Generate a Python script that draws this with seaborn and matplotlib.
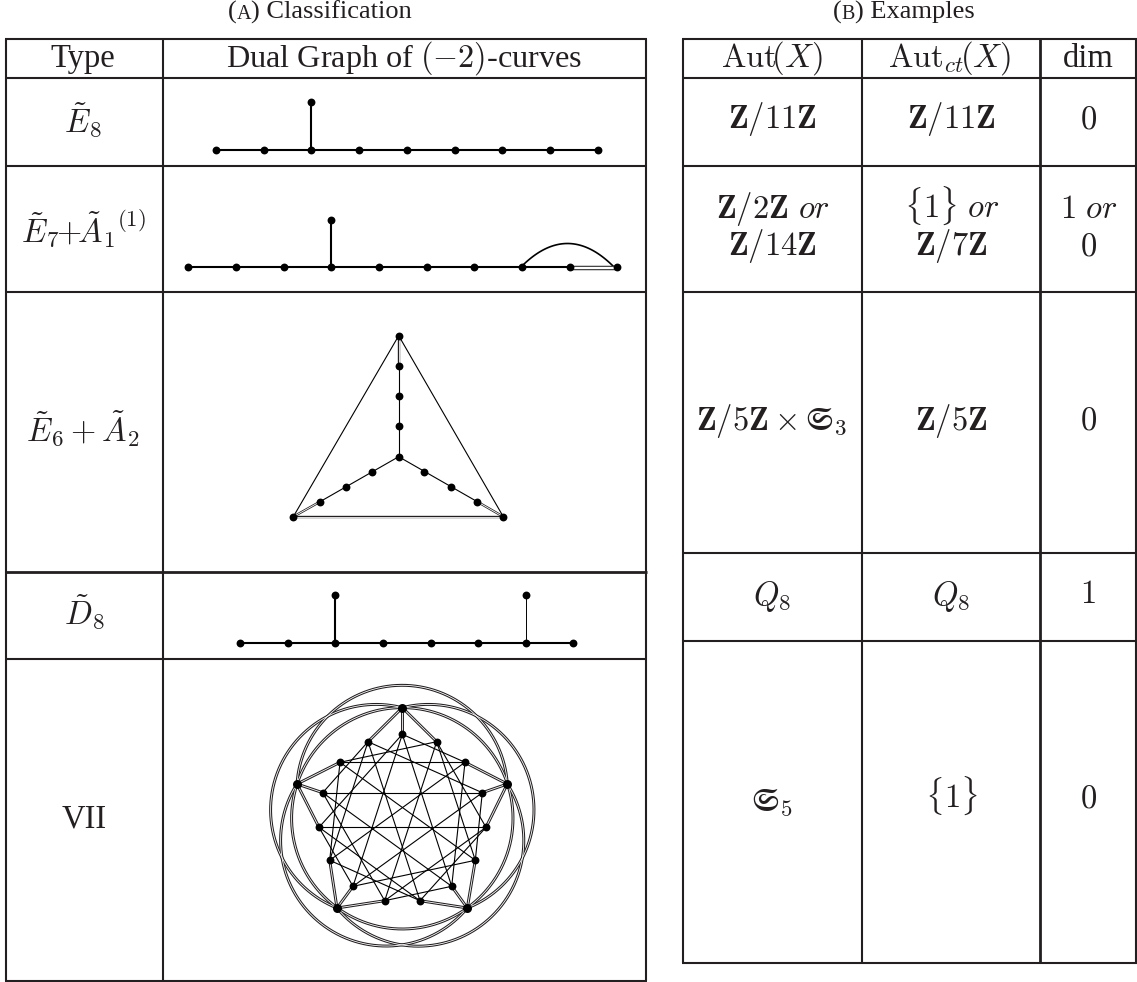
import numpy as np
import pandas as pd
import matplotlib
matplotlib.use("Agg")
import matplotlib.pyplot as plt
import seaborn as sns

INK = "#231f20"

# ─── Table grid (pixels of the page) ────────────────────────────────────────────
rows_a = [39, 78, 166, 292, 572, 659, 981]
cols_a = [6, 162.5, 646]
rows_b = [39, 78, 166, 292, 552.5, 640.5, 962.5]
cols_b = [683, 862, 1040, 1135.5]

# ─── Table texts: (x, baseline y, text) ─────────────────────────────────────────
type_labels = [
    (83, 66.5, "Type"),
    (83, 131, r"$\tilde{E}_8$"),
    (68.5, 241.5, r"$\tilde{E}_7\!\!+\!\!\tilde{A}_1$"),
    (83.5, 440, r"$\tilde{E}_6+\tilde{A}_2$"),
    (84, 623, r"$\tilde{D}_8$"),
    (84, 828, "VII"),
]
example_labels = [
    (772, 66.5, r"$\mathrm{Aut}\!(X)$"),
    (950, 66.5, r"$\mathrm{Aut}_{ct}\!(X)$"),
    (1088, 66.5, "dim"),
    (772, 128, r"$\mathbf{Z}/11\mathbf{Z}$"),
    (951, 128, r"$\mathbf{Z}/11\mathbf{Z}$"),
    (1088, 128, r"$0$"),
    (773, 218, r"$\mathbf{Z}/2\mathbf{Z}\ \mathit{or}$"),
    (772, 255, r"$\mathbf{Z}/14\mathbf{Z}$"),
    (952, 218, r"$\{1\}\ \mathit{or}$"),
    (951, 255, r"$\mathbf{Z}/7\mathbf{Z}$"),
    (1089, 218, r"$1\ \mathit{or}$"),
    (1088, 255, r"$0$"),
    (772, 430, r"$\mathbf{Z}/5\mathbf{Z}\times\mathfrak{S}_3$"),
    (951, 430, r"$\mathbf{Z}/5\mathbf{Z}$"),
    (1088, 430, r"$0$"),
    (772, 605, r"$Q_8$"),
    (951, 605, r"$Q_8$"),
    (1088, 603, r"$1$"),
    (772, 810, r"$\mathfrak{S}_5$"),
    (951, 808, r"$\{1\}$"),
    (1088, 808, r"$0$"),
]

# ─── Graph E8 ───────────────────────────────────────────────────────────────────
e8_x = [216, 264, 311, 359, 407, 454.5, 502, 549.5, 597.5, 311]
e8_y = [149.5] * 9 + [101.5]
e8_edges = [(0, 8), (2, 9)]

# ─── Graph E7 + A1 ──────────────────────────────────────────────────────────────
e7_x = [188, 236, 283.5, 331, 379, 426.5, 474, 522, 570, 617, 331]
e7_y = [266.5] * 10 + [220]
e7_edges = [(0, 8), (3, 10)]

# ─── Graph E6 + A2 ──────────────────────────────────────────────────────────────
e6_x = [398.7, 398.7, 398.7, 398.7, 398.7, 372.3, 346, 320, 293.3, 424.3, 451, 477.3, 503.3]
e6_y = [335.7, 366, 396.3, 426.3, 456.7, 471.7, 486.7, 501.7, 516.7, 471.7, 486.7, 501.7, 516.7]
e6_edges = [(1, 4), (4, 7), (4, 11), (0, 8), (0, 12)]
e6_double = [(0, 1), (7, 8), (11, 12), (8, 12)]

# ─── Graph D8 ───────────────────────────────────────────────────────────────────
d8_x = [240, 287.5, 335.4, 383, 431, 478, 526, 573, 335.4, 526]
d8_y = [642.7] * 8 + [594.7, 594.7]

# ─── Graph VII: five outer vertices, fifteen inner ones ─────────────────────────
outer_x = [402.3, 507.3, 467.3, 337, 297]
outer_y = [707.7, 784, 908, 908, 784]
inner_x = [402.3, 436.7, 465, 482.3, 486, 475.3, 451.7, 420, 384.7, 353, 329.7, 319, 322.7, 340, 368]
inner_y = [734.3, 741.7, 762.3, 792.7, 827.3, 860.3, 886.3, 900.7, 900.7, 886.3, 860.3, 827.3, 792.7, 762.3, 741.7]
spokes = [[14, 0, 1], [2, 3, 4], [5, 6, 7], [8, 9, 10], [11, 12, 13]]
inner_edges = [
    (3, 12), (6, 0), (9, 3), (12, 6), (0, 9),
    (2, 13), (5, 1), (8, 4), (11, 7), (14, 10),
    (4, 11), (7, 14), (10, 2), (13, 5), (1, 8),
    (1, 4), (4, 7), (7, 10), (10, 13), (13, 1),
    (14, 3), (2, 6), (5, 9), (8, 12), (11, 0),
    (2, 0), (5, 3), (8, 6), (11, 9), (14, 12),
]
vii_center = (402.3, 818.3)
vii_radius = 110.7
apex_radius = 133


def double_line(ax, xs, ys, wide=2.1, thin=0.6, z=3):
    ax.plot(xs, ys, color=INK, lw=wide, solid_capstyle="butt", zorder=z)
    ax.plot(xs, ys, color="white", lw=thin, solid_capstyle="butt", zorder=z + 0.1)


def arc_points(p0, p1, apex):
    # circle through the two ends and the apex
    a = np.array([[p1[0] - p0[0], p1[1] - p0[1]], [apex[0] - p0[0], apex[1] - p0[1]]]) * 2
    b = [p1[0] ** 2 - p0[0] ** 2 + p1[1] ** 2 - p0[1] ** 2,
         apex[0] ** 2 - p0[0] ** 2 + apex[1] ** 2 - p0[1] ** 2]
    c = np.linalg.solve(a, b)
    r = np.hypot(*(np.array(p0) - c))
    mid = np.arctan2(apex[1] - c[1], apex[0] - c[0])
    half = abs((np.arctan2(p0[1] - c[1], p0[0] - c[0]) - mid + np.pi) % (2 * np.pi) - np.pi)
    t = np.linspace(mid - half, mid + half, 200)
    return c[0] + r * np.cos(t), c[1] + r * np.sin(t)


def draw_nodes(ax, xs, ys, size=28):
    sns.scatterplot(data=pd.DataFrame({"x": xs, "y": ys}), x="x", y="y", ax=ax,
                    color="black", s=size, linewidth=0, zorder=5, legend=False)


def draw_table(ax, rows, cols):
    for y in rows:
        ax.plot([cols[0] - 1, cols[-1] + 1], [y, y], color=INK, zorder=2,
                lw=2.0 if y == 572 else 1.5, solid_capstyle="butt")
    for x in cols:
        ax.plot([x, x], [rows[0], rows[-1]], color=INK, zorder=2,
                lw=2.0 if x == 1040 else 1.5, solid_capstyle="butt")


def caption(ax, x, y, pieces):
    # small caps by hand: each piece is (text, size), placed one after the other
    r = ax.figure.canvas.get_renderer()
    for s, size in pieces:
        t = ax.text(x, y, s, fontsize=size, color=INK, ha="left", va="baseline")
        x += t.get_window_extent(r).width + (1 if s == ")" else 0)


def plot_tables(ax):
    draw_table(ax, rows_a, cols_a)
    draw_table(ax, rows_b, cols_b)
    for x, y, s in type_labels + example_labels:
        ax.text(x, y, s, fontsize=23.5, color=INK, ha="center", va="baseline")
    ax.text(131.5, 226, r"$(1)$", fontsize=16.5, color=INK, ha="center", va="baseline")
    ax.text(404, 66.5, r"Dual Graph of $(-2)$-curves", fontsize=23.2, color=INK,
            ha="center", va="baseline")
    caption(ax, 228, 18.5, [("(", 19), ("A", 14.5), (") Classification", 19)])
    caption(ax, 833, 18.5, [("(", 19), ("B", 14.5), (") Examples", 19)])


def plot_chains(ax):
    for xs, ys, edges in [(e8_x, e8_y, e8_edges), (e7_x, e7_y, e7_edges)]:
        for a, b in edges:
            ax.plot([xs[a], xs[b]], [ys[a], ys[b]], color="black", lw=1.5, zorder=3)
    t = np.linspace(-1, 1, 60)
    ax.plot(567.5 + 46 * t, 243.5 + 23 * t ** 2, color="black", lw=1.2, zorder=3)
    double_line(ax, [e7_x[8], e7_x[9]], [e7_y[8] + 1, e7_y[9] + 1], wide=3.2, thin=1.7)

    ax.plot([d8_x[0], d8_x[7]], [d8_y[0], d8_y[7]], color="black", lw=1.5, zorder=3)
    ax.plot([d8_x[2], d8_x[8]], [d8_y[2], d8_y[8]], color="black", lw=1.5, zorder=3)
    ax.plot([d8_x[6], d8_x[9]], [d8_y[6], d8_y[9]], color="black", lw=0.7, zorder=3)

    for a, b in e6_edges:
        ax.plot([e6_x[a], e6_x[b]], [e6_y[a], e6_y[b]], color="black", lw=0.8, zorder=3)
    for a, b in e6_double:
        double_line(ax, [e6_x[a], e6_x[b]], [e6_y[a], e6_y[b]], wide=1.7, thin=0.6)

    draw_nodes(ax, e8_x, e8_y, 32)
    draw_nodes(ax, e7_x, e7_y, 32)
    draw_nodes(ax, e6_x, e6_y, 32)
    draw_nodes(ax, d8_x, d8_y, 32)


def plot_vii(ax):
    cx, cy = vii_center
    t = np.linspace(0, 2 * np.pi, 400)
    double_line(ax, cx + vii_radius * np.cos(t), cy + vii_radius * np.sin(t))
    for i in range(5):
        a, b = (i + 4) % 5, (i + 1) % 5
        d = np.array([outer_x[i] - cx, outer_y[i] - cy])
        apex = np.array([cx, cy]) + d / np.hypot(*d) * apex_radius
        xs, ys = arc_points((outer_x[a], outer_y[a]), (outer_x[b], outer_y[b]), apex)
        double_line(ax, xs, ys)
    for a, b in inner_edges:
        ax.plot([inner_x[a], inner_x[b]], [inner_y[a], inner_y[b]], color="black", lw=0.8, zorder=3)
    for k, group in enumerate(spokes):
        for j in group:
            double_line(ax, [outer_x[k], inner_x[j]], [outer_y[k], inner_y[j]])
    draw_nodes(ax, inner_x, inner_y, 32)
    draw_nodes(ax, outer_x, outer_y, 42)


if __name__ == "__main__":
    sns.set_theme(style="white")
    plt.rcParams["font.family"] = ["Liberation Serif", "DejaVu Serif"]
    plt.rcParams["mathtext.fontset"] = "cm"

    fig = plt.figure(figsize=(11.37, 9.82), dpi=100)
    ax = fig.add_axes([0, 0, 1, 1])
    fig.canvas.draw()
    plot_tables(ax)
    plot_chains(ax)
    plot_vii(ax)
    ax.set_xlim(0, 1137)
    ax.set_ylim(982, 0)
    ax.axis("off")
    fig.savefig("out.png", dpi=100)
